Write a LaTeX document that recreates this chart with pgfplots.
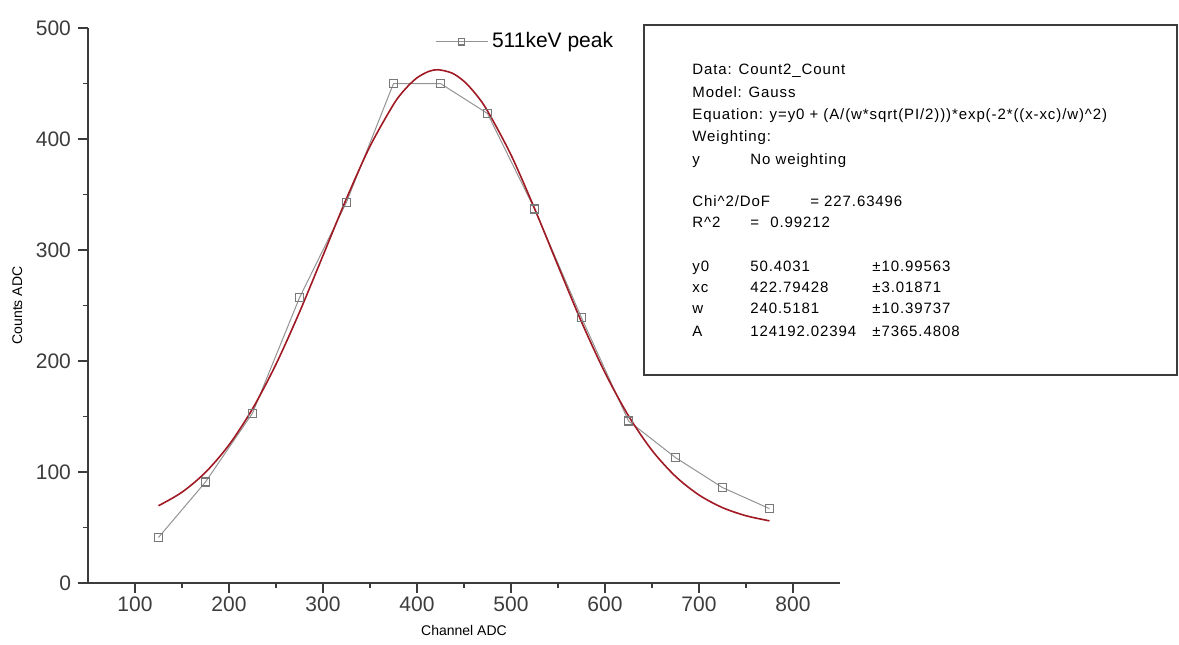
\documentclass[border=0pt]{standalone}
\usepackage{fontspec}
\setmainfont{Liberation Sans}
\newfontfamily\boxfont[LetterSpace=6]{Liberation Sans}
\usepackage{pgfplots}
\pgfplotsset{compat=1.18}
\definecolor{fitred}{RGB}{160,25,35}
\definecolor{ptgray}{RGB}{120,120,120}
\definecolor{axgray}{RGB}{60,60,60}
\newcommand{\bt}[3]{\node[anchor=base west,inner sep=0pt,font=\boxfont\fontsize{7.5}{9}\selectfont,text=black] at (#1,#2) {#3};}
\begin{document}
\begin{tikzpicture}[x=1pt,y=1pt]
\useasboundingbox (-44,-30.5) rectangle (545.5,291.5);
\begin{axis}[
  at={(0,0)}, anchor=south west,
  scale only axis, width=376pt, height=277.5pt,
  xmin=50, xmax=850, ymin=0, ymax=500,
  axis x line*=bottom, axis y line*=left,
  axis line style={axgray, line width=1pt, -},
  xtick={100,200,...,800}, ytick={0,100,...,500},
  minor xtick={150,250,...,750}, minor ytick={50,150,...,450},
  tick align=outside, major tick length=5pt, minor tick length=2.5pt,
  tick style={axgray, line width=0.8pt},
  ticklabel style={font=\fontsize{10.5}{12}\selectfont, text=axgray},
  xticklabel style={yshift=1.5pt},
  /pgf/number format/assume math mode=true,
  xlabel={Channel ADC}, ylabel={Counts ADC},
  label style={font=\fontsize{7}{8}\selectfont, text=black},
  legend style={draw=none, fill=none, at={(0.461,0.975)}, anchor=west,
    font=\fontsize{10.5}{12}\selectfont, inner sep=0pt},
  legend image code/.code={\draw[mark repeat=2,mark phase=2,mark size=1.6pt] plot coordinates {(0pt,0pt)(13pt,0pt)(26pt,0pt)};},
]
\addplot[color=ptgray!80, line width=0.5pt, mark=square, mark size=2pt,
  mark options={ptgray, fill=white, line width=0.6pt}] coordinates {
(125,41)(175,91)(225,153)(275,257)(325,343)(375,450)(425,450)
(475,423)(525,337)(575,239)(625,146)(675,113)(725,86)(775,67)
};
\addlegendentry{511keV peak}
\addplot[fitred, line width=0.8pt, smooth, forget plot] coordinates {
(125,69.6)(150,81.8)(175,99.7)(200,124.4)(225,156.9)(250,197.1)
(275,244.0)(300,295.0)(325,346.4)(350,393.4)(375,431.1)(387.5,445.0)
(400,455.1)(412.5,460.9)(422.8,462.4)(437.5,459.3)(450,452.0)(462.5,440.5)
(475,425.3)(500,385.7)(525,337.5)(550,285.9)(575,235.3)(600,189.5)
(625,150.6)(650,119.5)(675,96.1)(700,79.3)(725,67.9)(750,60.6)(775,56.0)
};
\end{axis}
\draw[axgray, line width=1pt] (278,104) rectangle (544.5,279);
\bt{302}{254}{Data: Count2\_Count}
\bt{302}{242.5}{Model: Gauss}
\bt{302}{232}{Equation: y=y0 + (A/(w*sqrt(PI/2)))*exp(-2*((x-xc)/w)\textasciicircum 2)}
\bt{302}{221}{Weighting:}
\bt{302}{209.5}{y}
\bt{331}{209.5}{No weighting}
\bt{302}{188.5}{Chi\textasciicircum 2/DoF}
\bt{361}{188.5}{= 227.63496}
\bt{302}{178}{R\textasciicircum 2}
\bt{331}{178}{=}
\bt{341}{178}{0.99212}
\bt{302}{156}{y0}
\bt{331}{156}{50.4031}
\bt{392}{156}{±10.99563}
\bt{302}{145.5}{xc}
\bt{331}{145.5}{422.79428}
\bt{392}{145.5}{±3.01871}
\bt{302}{135}{w}
\bt{331}{135}{240.5181}
\bt{392}{135}{±10.39737}
\bt{302}{123.5}{A}
\bt{331}{123.5}{124192.02394}
\bt{392}{123.5}{±7365.4808}
\end{tikzpicture}
\end{document}
